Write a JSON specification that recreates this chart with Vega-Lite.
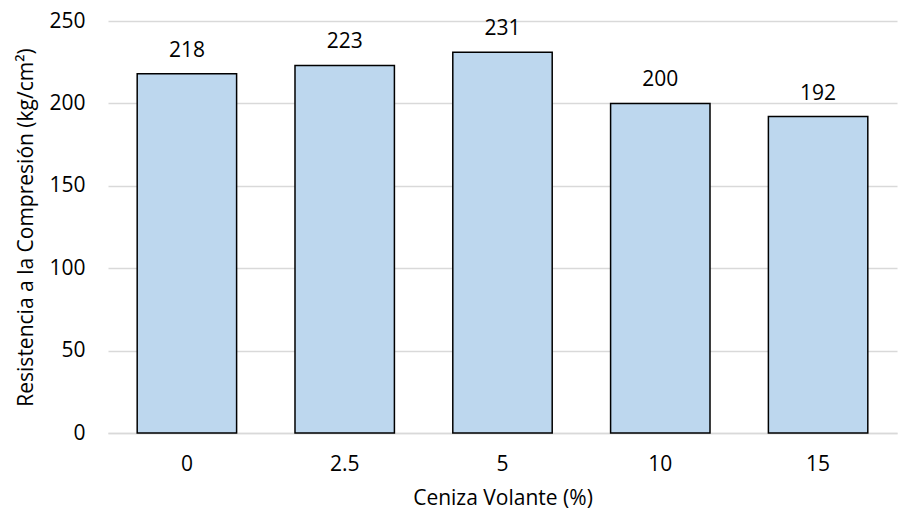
{
  "$schema": "https://vega.github.io/schema/vega-lite/v6.json",
  "width": 789,
  "height": 412,
  "autosize": {"type": "none"},
  "padding": {"left": 108, "top": 21, "right": 3, "bottom": 82},
  "background": "white",
  "config": {
    "view": {"stroke": null},
    "font": "Open Sans",
    "axis": {
      "labelFont": "Open Sans",
      "titleFont": "Open Sans",
      "labelFontSize": 21,
      "titleFontSize": 21,
      "labelColor": "#000000",
      "titleColor": "#000000",
      "titleFontWeight": "normal"
    }
  },
  "data": {
    "values": [
      {"ceniza": "0", "resistencia": 218},
      {"ceniza": "2.5", "resistencia": 223},
      {"ceniza": "5", "resistencia": 231},
      {"ceniza": "10", "resistencia": 200},
      {"ceniza": "15", "resistencia": 192}
    ]
  },
  "encoding": {
    "x": {
      "field": "ceniza",
      "type": "nominal",
      "sort": null,
      "scale": {"paddingInner": 0.37, "paddingOuter": 0.185},
      "axis": {
        "title": "Ceniza Volante (%)",
        "labelAngle": 0,
        "ticks": false,
        "domainColor": "#D9D9D9",
        "domainWidth": 1.5,
        "labelPadding": 20,
        "titlePadding": 13
      }
    },
    "y": {
      "field": "resistencia",
      "type": "quantitative",
      "scale": {"domain": [0, 250]},
      "axis": {
        "title": "Resistencia a la Compresión (kg/cm²)",
        "values": [0, 50, 100, 150, 200, 250],
        "domain": false,
        "ticks": false,
        "gridColor": "#D9D9D9",
        "gridWidth": 1.5,
        "labelPadding": 23,
        "titlePadding": 12
      }
    }
  },
  "layer": [
    {
      "mark": {"type": "bar", "fill": "#BDD7EE", "stroke": "#000000", "strokeWidth": 1.5}
    },
    {
      "mark": {"type": "text", "baseline": "alphabetic", "dy": -17, "fontSize": 21, "color": "#000000"},
      "encoding": {"text": {"field": "resistencia", "type": "quantitative"}}
    }
  ]
}
